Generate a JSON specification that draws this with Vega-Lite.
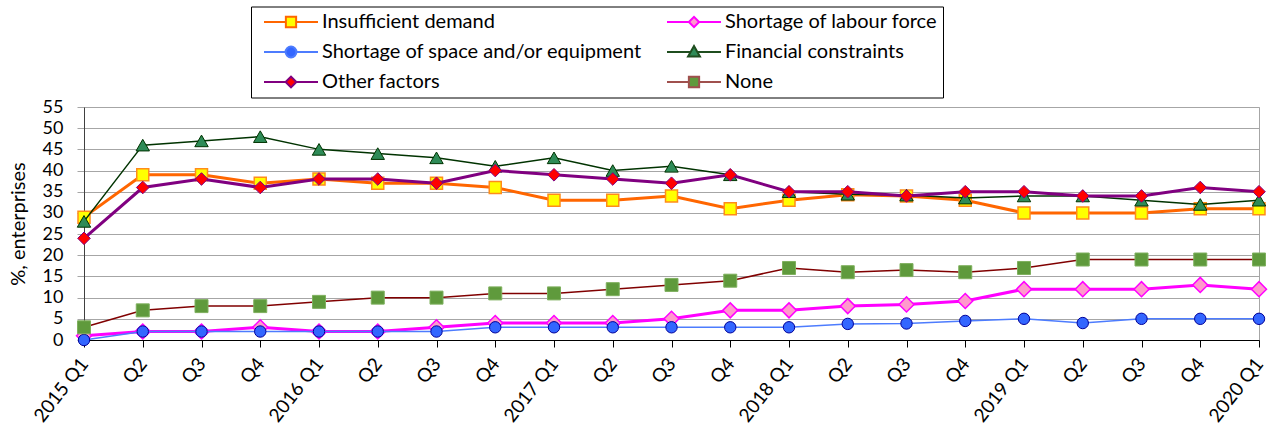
{
  "$schema": "https://vega.github.io/schema/vega-lite/v6.json",
  "width": 1175,
  "height": 233,
  "autosize": {"type": "none"},
  "padding": {"left": 84, "top": 107, "right": 12, "bottom": 89},
  "background": "white",
  "config": {
    "font": "Lato",
    "view": {"stroke": "#a6a6a6", "strokeWidth": 1}
  },
  "data": {
    "values": [
      {"q": "2015 Q1", "Insufficient demand": 29, "Shortage of labour force": 1, "Shortage of space and/or equipment": 0, "Financial constraints": 28, "Other factors": 24, "None": 3},
      {"q": "2015 Q2", "Insufficient demand": 39, "Shortage of labour force": 2, "Shortage of space and/or equipment": 2, "Financial constraints": 46, "Other factors": 36, "None": 7},
      {"q": "2015 Q3", "Insufficient demand": 39, "Shortage of labour force": 2, "Shortage of space and/or equipment": 2, "Financial constraints": 47, "Other factors": 38, "None": 8},
      {"q": "2015 Q4", "Insufficient demand": 37, "Shortage of labour force": 3, "Shortage of space and/or equipment": 2, "Financial constraints": 48, "Other factors": 36, "None": 8},
      {"q": "2016 Q1", "Insufficient demand": 38, "Shortage of labour force": 2, "Shortage of space and/or equipment": 2, "Financial constraints": 45, "Other factors": 38, "None": 9},
      {"q": "2016 Q2", "Insufficient demand": 37, "Shortage of labour force": 2, "Shortage of space and/or equipment": 2, "Financial constraints": 44, "Other factors": 38, "None": 10},
      {"q": "2016 Q3", "Insufficient demand": 37, "Shortage of labour force": 3, "Shortage of space and/or equipment": 2, "Financial constraints": 43, "Other factors": 37, "None": 10},
      {"q": "2016 Q4", "Insufficient demand": 36, "Shortage of labour force": 4, "Shortage of space and/or equipment": 3, "Financial constraints": 41, "Other factors": 40, "None": 11},
      {"q": "2017 Q1", "Insufficient demand": 33, "Shortage of labour force": 4, "Shortage of space and/or equipment": 3, "Financial constraints": 43, "Other factors": 39, "None": 11},
      {"q": "2017 Q2", "Insufficient demand": 33, "Shortage of labour force": 4, "Shortage of space and/or equipment": 3, "Financial constraints": 40, "Other factors": 38, "None": 12},
      {"q": "2017 Q3", "Insufficient demand": 34, "Shortage of labour force": 5, "Shortage of space and/or equipment": 3, "Financial constraints": 41, "Other factors": 37, "None": 13},
      {"q": "2017 Q4", "Insufficient demand": 31, "Shortage of labour force": 7, "Shortage of space and/or equipment": 3, "Financial constraints": 39, "Other factors": 39, "None": 14},
      {"q": "2018 Q1", "Insufficient demand": 33, "Shortage of labour force": 7, "Shortage of space and/or equipment": 3, "Financial constraints": 35, "Other factors": 35, "None": 17},
      {"q": "2018 Q2", "Insufficient demand": 34.3, "Shortage of labour force": 8, "Shortage of space and/or equipment": 3.8, "Financial constraints": 34.4, "Other factors": 35, "None": 16},
      {"q": "2018 Q3", "Insufficient demand": 34, "Shortage of labour force": 8.4, "Shortage of space and/or equipment": 3.9, "Financial constraints": 34.2, "Other factors": 34, "None": 16.5},
      {"q": "2018 Q4", "Insufficient demand": 33, "Shortage of labour force": 9.2, "Shortage of space and/or equipment": 4.5, "Financial constraints": 33.5, "Other factors": 35, "None": 16},
      {"q": "2019 Q1", "Insufficient demand": 30, "Shortage of labour force": 12, "Shortage of space and/or equipment": 5, "Financial constraints": 34, "Other factors": 35, "None": 17},
      {"q": "2019 Q2", "Insufficient demand": 30, "Shortage of labour force": 12, "Shortage of space and/or equipment": 4, "Financial constraints": 34, "Other factors": 34, "None": 19},
      {"q": "2019 Q3", "Insufficient demand": 30, "Shortage of labour force": 12, "Shortage of space and/or equipment": 5, "Financial constraints": 33, "Other factors": 34, "None": 19},
      {"q": "2019 Q4", "Insufficient demand": 31, "Shortage of labour force": 13, "Shortage of space and/or equipment": 5, "Financial constraints": 32, "Other factors": 36, "None": 19},
      {"q": "2020 Q1", "Insufficient demand": 31, "Shortage of labour force": 12, "Shortage of space and/or equipment": 5, "Financial constraints": 33, "Other factors": 35, "None": 19}
    ]
  },
  "transform": [
    {"fold": ["Insufficient demand", "Shortage of labour force", "Shortage of space and/or equipment", "Financial constraints", "Other factors", "None"], "as": ["s", "v"]}
  ],
  "encoding": {
    "x": {
      "field": "q", "type": "ordinal", "sort": null,
      "scale": {"type": "point", "padding": 0},
      "axis": {
        "title": null, "grid": false, "labelAngle": -52, "labelAlign": "right", "labelBaseline": "middle",
        "labelFontSize": 19, "labelColor": "black", "labelPadding": 13,
        "tickColor": "black", "tickSize": 7, "domainColor": "black", "domainWidth": 1,
        "labelExpr": "indexof(datum.label, 'Q1') >= 0 ? datum.label : slice(datum.label, 5)"
      }
    },
    "y": {
      "field": "v", "type": "quantitative",
      "scale": {"domain": [0, 55], "nice": false, "zero": true},
      "axis": {
        "title": "%, enterprises", "values": [0, 5, 10, 15, 20, 25, 30, 35, 40, 45, 50, 55],
        "grid": true, "gridColor": "#a6a6a6", "gridWidth": 1,
        "tickColor": "#a6a6a6", "tickSize": 7, "domainColor": "#404040",
        "labelFontSize": 18, "labelColor": "black", "labelPadding": 14,
        "titleFontSize": 20, "titleFontWeight": "normal", "titleColor": "black", "titlePadding": 14
      }
    }
  },
  "layer": [
    {"transform": [{"filter": {"field": "s", "equal": "Insufficient demand"}}], "mark": {"type": "line", "stroke": "#FF6600", "strokeWidth": 3}, "encoding": {}},
    {"transform": [{"filter": {"field": "s", "equal": "Insufficient demand"}}], "mark": {"type": "point", "shape": "square", "filled": true, "fill": "#FFFF00", "stroke": "#FF8C1A", "strokeWidth": 1.5, "size": 144, "opacity": 1}, "encoding": {}},
    {"transform": [{"filter": {"field": "s", "equal": "Shortage of labour force"}}], "mark": {"type": "line", "stroke": "#FF00FF", "strokeWidth": 3}, "encoding": {}},
    {"transform": [{"filter": {"field": "s", "equal": "Shortage of labour force"}}], "mark": {"type": "point", "shape": "diamond", "filled": true, "fill": "#FF99CC", "stroke": "#FF00FF", "strokeWidth": 1.5, "size": 225, "opacity": 1}, "encoding": {}},
    {"transform": [{"filter": {"field": "s", "equal": "Shortage of space and/or equipment"}}], "mark": {"type": "line", "stroke": "#4D7CFE", "strokeWidth": 1.5}, "encoding": {}},
    {"transform": [{"filter": {"field": "s", "equal": "Shortage of space and/or equipment"}}], "mark": {"type": "point", "shape": "circle", "filled": true, "fill": "#3366FF", "stroke": "#000099", "strokeWidth": 1, "size": 130, "opacity": 1}, "encoding": {}},
    {"transform": [{"filter": {"field": "s", "equal": "Financial constraints"}}], "mark": {"type": "line", "stroke": "#003300", "strokeWidth": 1.5}, "encoding": {}},
    {"transform": [{"filter": {"field": "s", "equal": "Financial constraints"}}], "mark": {"type": "point", "shape": "triangle-up", "filled": true, "fill": "#2E8B57", "stroke": "#003300", "strokeWidth": 1, "size": 180, "opacity": 1}, "encoding": {}},
    {"transform": [{"filter": {"field": "s", "equal": "Other factors"}}], "mark": {"type": "line", "stroke": "#800080", "strokeWidth": 3}, "encoding": {}},
    {"transform": [{"filter": {"field": "s", "equal": "Other factors"}}], "mark": {"type": "point", "shape": "diamond", "filled": true, "fill": "#FF0000", "stroke": "#800080", "strokeWidth": 1, "size": 160, "opacity": 1}, "encoding": {}},
    {"transform": [{"filter": {"field": "s", "equal": "None"}}], "mark": {"type": "line", "stroke": "#800000", "strokeWidth": 1.5}, "encoding": {}},
    {"transform": [{"filter": {"field": "s", "equal": "None"}}], "mark": {"type": "point", "shape": "square", "filled": true, "fill": "#5F9A3C", "stroke": "#7FB05E", "strokeWidth": 1, "size": 169, "opacity": 1}, "encoding": {}},
    {
      "transform": [{"filter": {"field": "v", "lt": -100}}],
      "mark": {"type": "point", "filled": true, "opacity": 1, "strokeWidth": 2},
      "encoding": {
        "shape": {
          "field": "s", "type": "nominal",
          "scale": {
            "domain": ["Insufficient demand", "Shortage of labour force", "Shortage of space and/or equipment", "Financial constraints", "Other factors", "None"],
            "range": [
              "M-1,0H-0.19M0.19,0H1M-0.19,-0.19H0.19V0.19H-0.19Z",
              "M-1,0H-0.19M0.19,0H1M-0.19,0L0,-0.19L0.19,0L0,0.19Z",
              "M-1,0H-0.2M0.2,0H1M-0.2,0A0.2,0.2,0,1,1,0.2,0A0.2,0.2,0,1,1,-0.2,0Z",
              "M-1,0H-0.12M0.12,0H1M-0.22,0.17L0,-0.22L0.22,0.17Z",
              "M-1,0H-0.2M0.2,0H1M-0.2,0L0,-0.2L0.2,0L0,0.2Z",
              "M-1,0H-0.19M0.19,0H1M-0.19,-0.19H0.19V0.19H-0.19Z"
            ]
          },
          "legend": {
            "title": null, "orient": "none", "legendX": 167, "legendY": -100.5, "columns": 2, "direction": "horizontal",
            "symbolSize": 2916, "symbolOffset": 7, "symbolStrokeWidth": 2, "clipHeight": 21, "rowPadding": 9, "columnPadding": 17,
            "labelOffset": 3, "padding": 5, "strokeColor": "black", "fillColor": "white",
            "labelFontSize": 20, "labelFont": "Lato", "labelColor": "black", "labelLimit": 500,
            "labelExpr": "datum.label === 'Shortage of labour force' ? datum.label + '\u00a0\u00a0\u00a0\u00a0' : datum.label"
          }
        },
        "fill": {
          "field": "s", "type": "nominal",
          "scale": {
            "domain": ["Insufficient demand", "Shortage of labour force", "Shortage of space and/or equipment", "Financial constraints", "Other factors", "None"],
            "range": ["#FFFF00", "#FF99CC", "#3366FF", "#2E8B57", "#FF0000", "#5F9A3C"]
          }
        },
        "stroke": {
          "field": "s", "type": "nominal",
          "scale": {
            "domain": ["Insufficient demand", "Shortage of labour force", "Shortage of space and/or equipment", "Financial constraints", "Other factors", "None"],
            "range": ["#FF6600", "#FF00FF", "#4D7CFE", "#1F4E1F", "#800080", "#A0504D"]
          }
        }
      }
    }
  ]
}
